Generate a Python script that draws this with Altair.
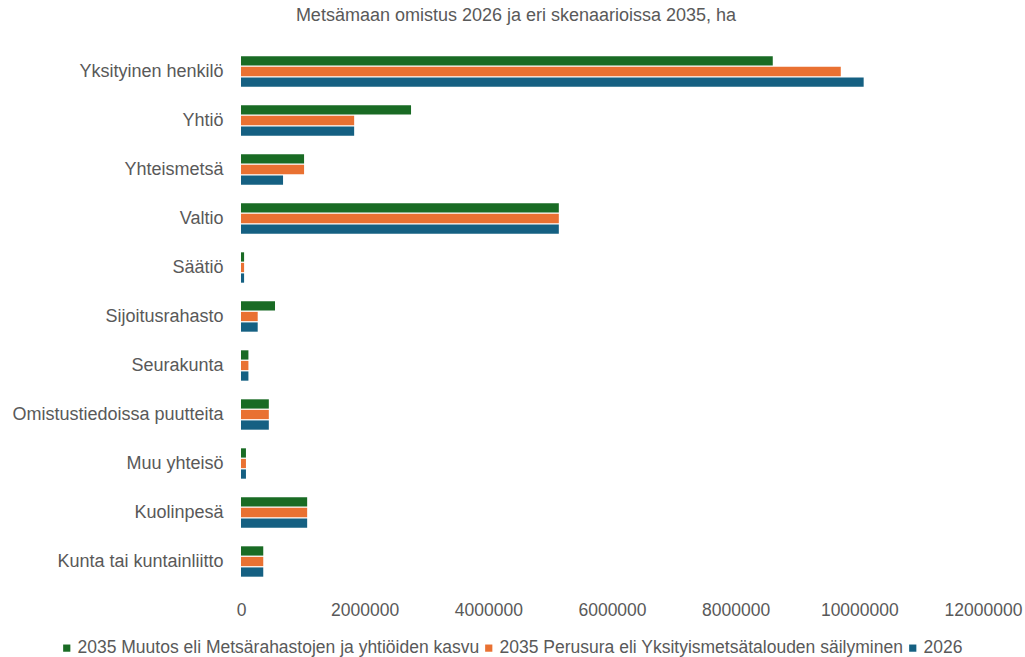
import altair as alt
import pandas as pd

categories = [
    "Yksityinen henkilö", "Yhtiö", "Yhteismetsä", "Valtio", "Säätiö",
    "Sijoitusrahasto", "Seurakunta", "Omistustiedoissa puutteita",
    "Muu yhteisö", "Kuolinpesä", "Kunta tai kuntainliitto",
]
series = [
    "2035 Muutos eli Metsärahastojen ja yhtiöiden kasvu",
    "2035 Perusura eli Yksityismetsätalouden säilyminen",
    "2026",
]
muutos_2035 = [8600000, 2750000, 1020000, 5140000, 50000, 550000, 120000, 450000, 80000, 1070000, 360000]
perusura_2035 = [9700000, 1830000, 1020000, 5140000, 50000, 270000, 120000, 450000, 80000, 1070000, 360000]
vuosi_2026 = [10070000, 1830000, 680000, 5140000, 50000, 270000, 120000, 450000, 80000, 1070000, 360000]
colors = ["#196B24", "#E97132", "#156082"]
x_ticks = [0, 2000000, 4000000, 6000000, 8000000, 10000000, 12000000]
title_text = "Metsämaan omistus 2026 ja eri skenaarioissa 2035, ha"

rows = []
for s, vals in zip(series, [muutos_2035, perusura_2035, vuosi_2026]):
    for c, v in zip(categories, vals):
        rows.append({"Omistaja": c, "Sarja": s, "ha": v})
df = pd.DataFrame(rows)

FONT = "Liberation Sans"
GREY = "#595959"

chart = alt.Chart(df).mark_bar().encode(
    y=alt.Y("Omistaja:N", sort=categories, title=None,
            scale=alt.Scale(paddingInner=0.38, paddingOuter=0.19),
            axis=alt.Axis(labelFont=FONT, labelFontSize=18, labelColor=GREY,
                          domain=False, ticks=False, tickSize=0, labelPadding=18,
                          labelLimit=400)),
    yOffset=alt.YOffset("Sarja:N", sort=series,
                        scale=alt.Scale(paddingInner=0.12)),
    x=alt.X("ha:Q", title=None,
            scale=alt.Scale(domain=[0, 12000000], nice=False),
            axis=alt.Axis(values=x_ticks, format="d", labelFont=FONT, labelFontSize=17.5,
                          labelColor=GREY, domain=False, ticks=False, tickSize=0,
                          grid=False, labelPadding=15, labelFlush=False)),
    color=alt.Color("Sarja:N", sort=series,
                    scale=alt.Scale(domain=series, range=colors),
                    legend=alt.Legend(title=None, orient="none", direction="horizontal",
                                      legendX=-183, legendY=592,
                                      symbolType="square", symbolSize=52,
                                      symbolStrokeWidth=0,
                                      labelFont=FONT, labelFontSize=17.5, labelColor=GREY,
                                      labelOffset=2, columnPadding=0, labelLimit=600)),
).properties(
    width=742,
    height=539,
    title=alt.TitleParams(title_text, font=FONT, fontSize=18, fontWeight="normal",
                          color=GREY, anchor="middle", dx=-96, offset=22),
    autosize=alt.AutoSizeParams(type="none"),
    padding={"left": 241, "top": 47, "right": 42, "bottom": 71},
    background="white",
).configure_view(stroke=None, strokeWidth=0)

chart.save("out.html", embed_options={"renderer": "svg", "actions": False})
